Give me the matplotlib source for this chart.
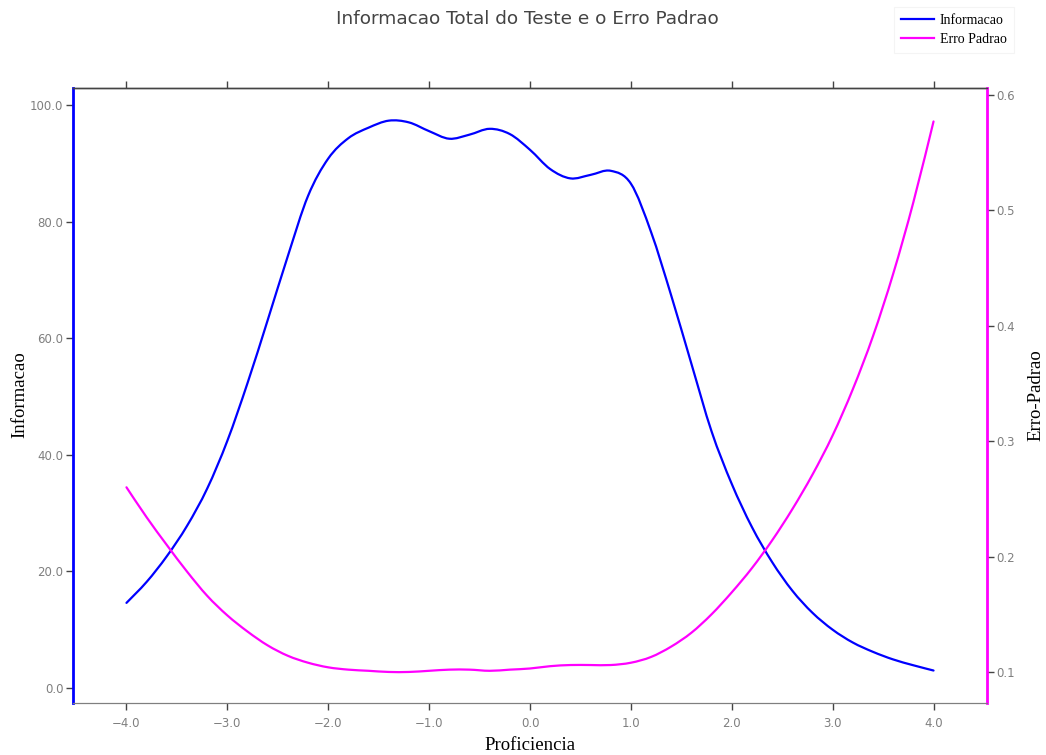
import matplotlib.pyplot as plt
from matplotlib.path import Path
from matplotlib.patches import PathPatch
from matplotlib.lines import Line2D
import numpy as np

# proficiency grid and curves read at each point
proficiencia = [-4.0, -3.8, -3.6, -3.4, -3.2, -3.0, -2.8, -2.6, -2.4, -2.2,
                -2.0, -1.8, -1.6, -1.4, -1.2, -1.0, -0.8, -0.6, -0.4, -0.2,
                0.0, 0.2, 0.4, 0.6, 0.8, 1.0, 1.2, 1.4, 1.6, 1.8,
                2.0, 2.2, 2.4, 2.6, 2.8, 3.0, 3.2, 3.4, 3.6, 3.8, 4.0]

informacao = [14.6, 18.2, 22.6, 27.8, 34.2, 42.4, 52.3, 63.1, 74.1, 84.4,
              90.8, 94.3, 96.1, 97.3, 97.0, 95.5, 94.2, 94.9, 95.9, 95.0,
              92.3, 89.0, 87.4, 88.0, 88.7, 86.5, 78.2, 67.3, 55.6, 44.0,
              35.0, 27.6, 21.6, 16.7, 12.9, 10.0, 7.8, 6.2, 4.9, 3.9, 3.0]

erro_padrao = [0.260, 0.234, 0.210, 0.187, 0.166, 0.149, 0.135, 0.123, 0.114, 0.108,
               0.104, 0.102, 0.101, 0.100, 0.100, 0.101, 0.102, 0.102, 0.101, 0.102,
               0.103, 0.105, 0.106, 0.106, 0.106, 0.108, 0.113, 0.122, 0.134, 0.150,
               0.169, 0.190, 0.214, 0.241, 0.271, 0.305, 0.345, 0.391, 0.445, 0.507, 0.577]

x_ticks = [-4, -3, -2, -1, 0, 1, 2, 3, 4]
info_ticks = [0, 20, 40, 60, 80, 100]
erro_ticks = [0.1, 0.2, 0.3, 0.4, 0.5, 0.6]

BLUE = "#0000ff"
MAGENTA = "#ff00ff"
TICK_GREY = "#7f7f7f"
AXIS_GREY = "#444444"
SERIF = "Liberation Serif"


def spline_path(xs, ys):
    """Catmull-Rom curve through the points as cubic Bezier segments."""
    pts = np.column_stack([xs, ys]).astype(float)
    verts = [pts[0]]
    codes = [Path.MOVETO]
    n = len(pts)
    for i in range(n - 1):
        p0 = pts[max(i - 1, 0)]
        p1 = pts[i]
        p2 = pts[i + 1]
        p3 = pts[min(i + 2, n - 1)]
        c1 = p1 + (p2 - p0) / 6.0
        c2 = p2 - (p3 - p1) / 6.0
        verts += [c1, c2, p2]
        codes += [Path.CURVE4] * 3
    return Path(verts, codes)


def draw_curve(a, xs, ys, color):
    patch = PathPatch(spline_path(xs, ys), facecolor="none", edgecolor=color,
                      lw=1.6, capstyle="round", joinstyle="round")
    a.add_patch(patch)
    return patch


fig = plt.figure(figsize=(10.46, 7.55), dpi=100)
ax = fig.add_axes([73/1046, 1 - 703/755, (987 - 73)/1046, (703 - 88)/755])
ax2 = ax.twinx()

draw_curve(ax, proficiencia, informacao, BLUE)
draw_curve(ax2, proficiencia, erro_padrao, MAGENTA)

ax.set_xlim(-4.53, 4.53)
ax.set_ylim(-2.57, 102.9)
ax2.set_ylim(0.0731, 0.606)


def fmt(v, nd=1):
    return f"{v:.{nd}f}".replace("-", "\u2212")


ax.set_xticks(x_ticks)
ax.set_xticklabels([fmt(v) for v in x_ticks])
ax.set_yticks(info_ticks)
ax.set_yticklabels([fmt(v) for v in info_ticks])
ax2.set_yticks(erro_ticks)
ax2.set_yticklabels([fmt(v) for v in erro_ticks])

for a in (ax, ax2):
    a.tick_params(axis="both", direction="out", length=5, width=1, color=AXIS_GREY,
                  labelcolor=TICK_GREY, labelsize=8.5, pad=2)
ax.tick_params(axis="x", top=True, pad=5)

for a in (ax, ax2):
    a.spines["top"].set_color(AXIS_GREY)
    a.spines["bottom"].set_color(TICK_GREY)
    a.spines["top"].set_linewidth(1)
ax.spines["left"].set_color(BLUE)
ax.spines["left"].set_linewidth(2)
ax2.spines["left"].set_visible(False)
ax.spines["right"].set_visible(False)
ax2.spines["right"].set_color(MAGENTA)
ax2.spines["right"].set_linewidth(2)

fig.text(527/1046, 1 - 19/755, "Informacao Total do Teste e o Erro Padrao",
         ha="center", va="center", fontsize=13.3, color=AXIS_GREY)
fig.text(530/1046, 1 - 745/755, "Proficiencia", ha="center", va="center",
         fontsize=13.5, family=SERIF)
fig.text(20/1046, 1 - 395/755, "Informacao", ha="center", va="center",
         fontsize=13.5, family=SERIF, rotation=90)
fig.text(1036/1046, 1 - 395/755, "Erro-Padrao", ha="center", va="center",
         fontsize=13.5, family=SERIF, rotation=90)

handles = [Line2D([], [], color=BLUE, lw=1.6, label="Informacao"),
           Line2D([], [], color=MAGENTA, lw=1.6, label="Erro Padrao")]
leg = fig.legend(handles=handles, loc="upper left", bbox_to_anchor=(887/1046, 1.0),
                 frameon=True, fancybox=False, prop={"family": SERIF, "size": 10},
                 handlelength=2.4, handletextpad=0.4, labelspacing=0.45,
                 borderpad=0.5)
leg.get_frame().set_edgecolor("#f2f2f2")
leg.get_frame().set_linewidth(0.8)

fig.savefig("out.png", dpi=100)
